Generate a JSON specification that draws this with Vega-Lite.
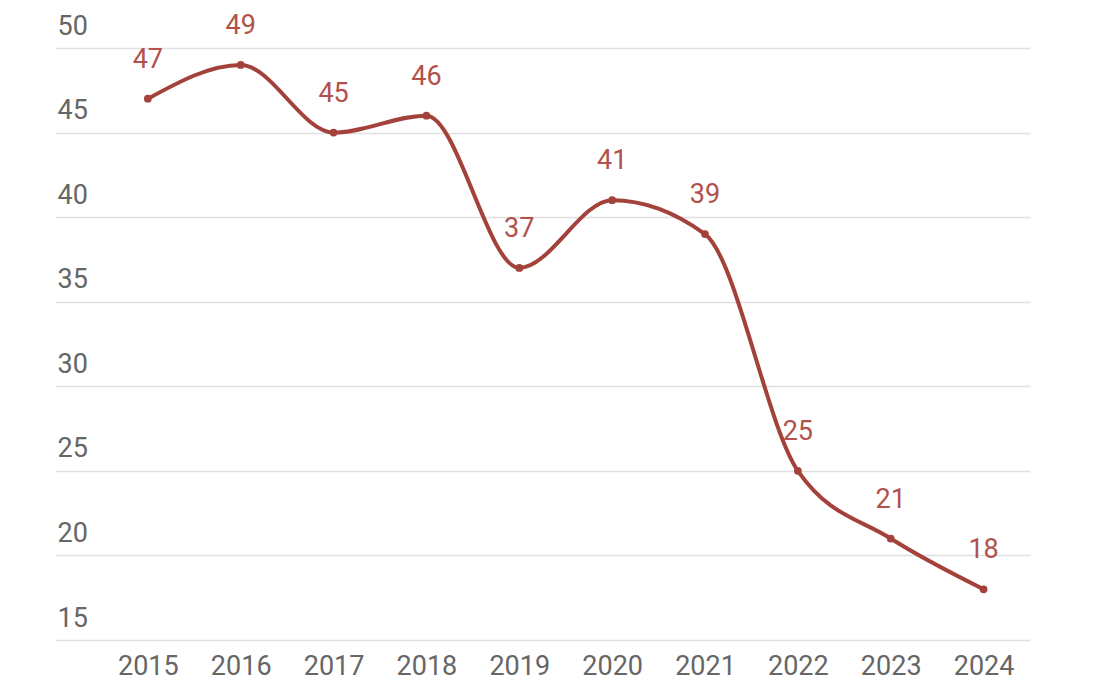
{
  "$schema": "https://vega.github.io/schema/vega-lite/v6.json",
  "autosize": "none",
  "width": 975,
  "height": 592,
  "padding": {"left": 55, "top": 48, "right": 77, "bottom": 51},
  "background": "white",
  "config": {"view": {"stroke": null}, "font": "Roboto"},
  "data": {"values": [
    {"year": 2015, "value": 47},
    {"year": 2016, "value": 49},
    {"year": 2017, "value": 45},
    {"year": 2018, "value": 46},
    {"year": 2019, "value": 37},
    {"year": 2020, "value": 41},
    {"year": 2021, "value": 39},
    {"year": 2022, "value": 25},
    {"year": 2023, "value": 21},
    {"year": 2024, "value": 18}
  ]},
  "encoding": {
    "x": {"field": "year", "type": "quantitative",
      "scale": {"domain": [2014, 2024.5], "nice": false, "zero": false},
      "axis": {"title": null, "values": [2015,2016,2017,2018,2019,2020,2021,2022,2023,2024], "format": "d",
        "grid": false, "domain": false, "ticks": false, "labelPadding": 13,
        "labelFontSize": 27, "labelColor": "#666666", "labelFlush": false}},
    "y": {"field": "value", "type": "quantitative",
      "scale": {"domain": [15, 50], "nice": false, "zero": false},
      "axis": {"title": null, "values": [15,20,25,30,35,40,45,50], "domain": false, "ticks": false,
        "grid": true, "gridColor": "#e0e0e0", "gridWidth": 1.5,
        "labelAlign": "left", "labelPadding": -2, "labelBaseline": "bottom", "labelOffset": -8,
        "labelFontSize": 27, "labelColor": "#666666"}}
  },
  "layer": [
    {"mark": {"type": "line", "interpolate": "monotone", "color": "#a3413b", "strokeWidth": 4}},
    {"mark": {"type": "point", "filled": true, "opacity": 1, "color": "#a3413b", "size": 60}},
    {"mark": {"type": "text", "baseline": "bottom", "dy": -25, "fontSize": 27, "color": "#b0524b"},
      "encoding": {"text": {"field": "value", "type": "quantitative"}}}
  ]
}
